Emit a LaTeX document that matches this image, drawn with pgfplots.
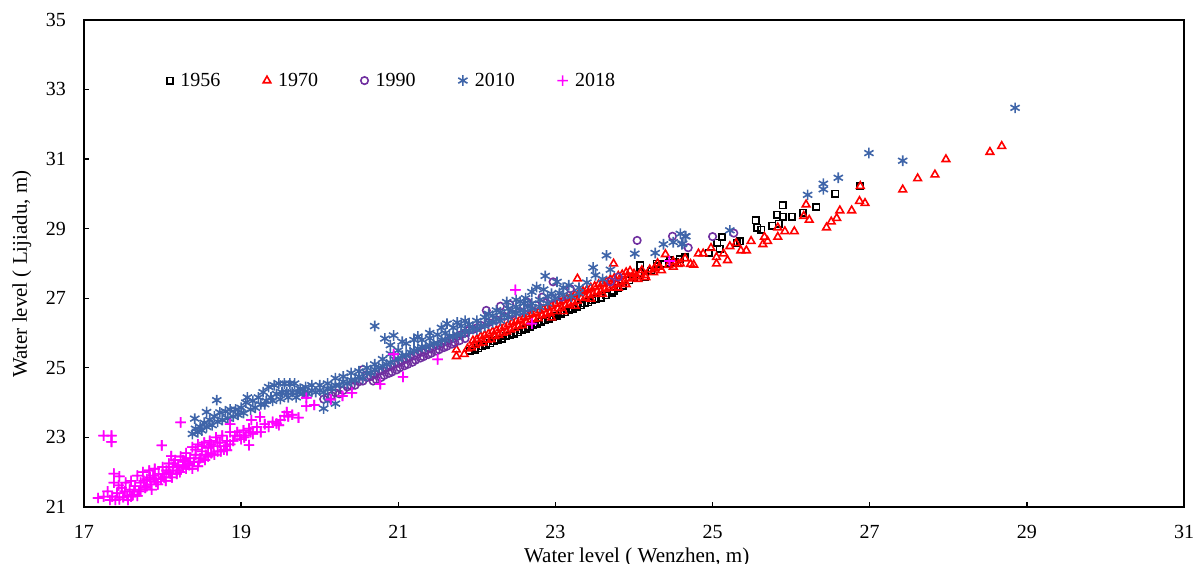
\documentclass[border=0pt]{standalone}
\usepackage{fontspec}
\setmainfont{Liberation Serif}
\usepackage{pgfplots}
\usepackage{pgfplotstable}
\pgfplotsset{compat=1.18}
\definecolor{cBlue}{HTML}{3F65A9}
\definecolor{cPur}{HTML}{7030A0}
\definecolor{cMag}{HTML}{FF00FF}
\pgfdeclareplotmark{magplus}{%
 \pgfsetfillcolor{cMag}%
 \pgfpathrectangle{\pgfqpoint{-\pgfplotmarksize}{-0.6pt}}{\pgfqpoint{2\pgfplotmarksize}{1.2pt}}%
 \pgfpathrectangle{\pgfqpoint{-0.6pt}{-\pgfplotmarksize}}{\pgfqpoint{1.2pt}{2\pgfplotmarksize}}%
 \pgfusepathqfill}
\pgfplotstableread{
17.18 21.26
17.25 21.30
17.25 23.05
17.35 23.05
17.35 22.87
17.30 21.45
17.33 21.20
17.38 21.96
17.38 21.70
17.40 21.20
17.42 21.40
17.45 21.88
17.45 21.22
17.48 21.55
17.50 21.28
17.53 21.70
17.55 21.32
17.58 21.50
17.60 21.75
17.62 21.35
17.65 21.60
17.68 21.90
17.70 21.45
17.72 21.70
17.75 22.00
17.78 21.55
17.80 21.80
17.83 22.05
17.85 21.65
17.88 21.90
17.90 22.10
17.92 21.72
17.95 21.95
17.99 22.77
18.00 22.15
18.02 21.85
18.05 22.05
18.08 22.25
18.11 22.46
18.10 21.95
18.13 22.15
18.16 22.35
18.18 22.05
18.20 22.20
18.23 23.43
18.23 22.45
18.26 22.15
18.28 22.30
18.30 22.55
18.33 22.25
18.35 22.40
18.38 22.72
18.40 22.30
18.42 22.50
18.45 22.17
18.45 22.80
18.48 22.40
18.50 22.60
18.53 22.85
18.55 22.50
18.58 22.70
18.60 22.90
18.62 22.55
18.65 22.75
18.68 23.00
18.70 22.60
18.73 22.85
18.76 23.05
18.78 22.65
18.82 22.63
18.82 22.90
18.86 23.38
18.86 23.15
18.90 22.90
18.95 23.15
19.00 22.95
19.03 23.20
19.06 23.05
19.10 22.78
19.10 23.25
19.13 23.50
19.15 23.10
19.20 23.30
19.24 23.59
19.25 23.15
19.30 23.38
19.35 23.30
19.40 23.45
19.45 23.40
19.48 23.35
19.50 23.50
19.55 23.62
19.58 23.73
19.60 23.60
19.65 23.65
19.73 23.57
19.83 24.14
19.83 23.90
19.93 23.93
20.14 24.09
20.29 24.19
20.41 24.28
20.77 24.53
20.94 25.39
21.06 24.74
21.50 25.24
22.49 27.24
22.70 26.27
24.45 28.07
17.36 21.30
17.44 21.62
17.52 21.45
17.56 21.20
17.60 21.30
17.64 21.45
17.68 21.32
17.72 21.50
17.76 21.75
17.80 21.60
17.84 21.85
17.86 21.50
17.90 21.80
17.94 21.65
17.98 21.80
18.00 21.95
18.04 21.75
18.08 22.00
18.12 21.85
18.14 22.25
18.18 21.95
18.22 22.00
18.26 22.35
18.30 22.10
18.34 22.20
18.38 22.10
18.42 22.65
18.46 22.30
18.50 22.75
18.54 22.35
18.58 22.45
18.62 22.80
18.66 22.50
18.70 22.85
18.74 22.60
18.80 22.75
18.86 22.80
18.92 23.05
18.98 23.05
19.04 23.00
19.12 23.15
}\magdata
\begin{document}
\begin{tikzpicture}
\useasboundingbox (0pt,0pt) rectangle (897pt,423pt);
\begin{axis}[
 at={(63pt,42.75pt)},anchor=south west,
 scale only axis,width=825pt,height=365.4pt,
 xmin=17,xmax=31,ymin=21,ymax=35,
 xtick={17,19,...,31},ytick={21,23,...,35},
 xtick pos=bottom,ytick pos=left,tick align=inside,
 major tick length=4pt,
 axis line style={line width=1.3pt,black},
 tick style={line width=1pt,black},
 font=\fontsize{15}{18}\selectfont,
 /pgf/number format/assume math mode=true,
 ticklabel style={font=\fontsize{15}{18}\selectfont},
 xticklabel style={yshift=-10pt},
 yticklabel style={xshift=-10pt},
 xlabel={Water level ( Wenzhen, m)},
 ylabel={Water level ( Lijiadu, m)},
 xlabel style={font=\fontsize{15.8}{18}\selectfont,at={(axis description cs:0.5,0)},anchor=north,yshift=-27.5pt,xshift=2pt},
 ylabel style={font=\fontsize{15.7}{18}\selectfont,at={(axis description cs:0,0.478)},anchor=south,yshift=36pt},
 legend columns=5,
 legend style={draw=none,fill=none,at={(axis cs:18.05,33.5)},anchor=north west,
   font=\fontsize{15}{18}\selectfont,inner sep=0pt,
   nodes={inner sep=0.5pt},
   /tikz/every even column/.append style={column sep=31.5pt},
   /tikz/every odd column/.append style={column sep=5pt}},
 legend cell align=left,
 every axis plot/.append style={only marks},
 clip=false,
]
% 1956
\addplot[black,mark=square,mark size=2.4pt,line width=1.2pt,mark options={solid}] table {
21.91 25.48
21.97 25.52
22.02 25.56
22.07 25.62
22.12 25.66
22.17 25.70
22.22 25.76
22.27 25.80
22.32 25.84
22.37 25.90
22.42 25.93
22.47 25.98
22.52 26.02
22.57 26.08
22.62 26.12
22.67 26.18
22.72 26.22
22.77 26.26
22.82 26.32
22.87 26.36
22.92 26.40
22.97 26.46
23.02 26.50
23.07 26.55
23.12 26.60
23.17 26.65
23.22 26.70
23.27 26.75
23.32 26.80
23.37 26.85
23.42 26.88
23.47 26.94
23.52 26.98
23.58 27.02
23.64 27.08
23.72 27.16
23.74 27.22
23.80 27.30
23.86 27.36
23.94 27.52
24.00 27.60
24.08 27.72
24.08 27.94
24.14 27.62
24.22 27.78
24.29 27.99
24.30 27.92
24.36 27.98
24.44 28.02
24.46 28.09
24.52 28.04
24.58 28.12
24.65 28.18
24.95 28.31
25.06 28.60
25.09 28.42
25.12 28.76
25.31 28.58
25.35 28.63
25.55 29.24
25.57 29.03
25.62 28.97
25.76 29.08
25.84 29.14
25.82 29.40
25.89 29.34
25.89 29.67
26.01 29.34
26.15 29.46
26.32 29.62
26.56 30.00
26.88 30.22
};
\addlegendentry{1956}
% 1970
\addplot[red,mark=triangle,mark size=3.3pt,line width=1.2pt,mark options={solid}] table {
21.74 25.33
21.84 25.39
21.74 25.52
21.88 25.55
21.93 25.58
21.98 25.65
22.03 25.70
22.08 25.72
22.13 25.80
22.18 25.82
22.23 25.90
22.28 25.94
22.33 26.00
22.38 26.04
22.43 26.10
22.48 26.14
22.53 26.20
22.58 26.22
22.63 26.30
22.68 26.34
22.73 26.40
22.78 26.42
22.83 26.50
22.88 26.54
22.93 26.58
22.98 26.62
23.03 26.70
23.08 26.72
23.13 26.80
23.18 26.84
23.23 26.88
23.28 26.92
23.33 27.00
23.38 27.02
23.43 27.08
23.48 27.12
23.53 27.18
23.58 27.20
23.63 27.26
23.68 27.30
23.73 27.36
23.78 27.40
23.83 27.45
23.88 27.48
23.93 27.56
23.98 27.60
24.03 27.62
24.08 27.72
24.14 27.66
24.20 27.82
24.26 27.86
24.32 27.90
24.40 28.26
24.44 27.95
24.50 27.90
24.56 27.98
24.59 27.99
24.65 28.14
24.76 27.96
24.72 27.98
21.95 25.78
22.00 25.82
22.05 25.90
22.10 25.94
22.15 25.98
22.20 26.04
22.25 26.08
22.30 26.14
22.35 26.18
22.40 26.24
22.45 26.30
22.50 26.34
22.55 26.38
22.60 26.44
22.65 26.48
22.70 26.54
22.75 26.58
22.80 26.64
22.85 26.68
22.90 26.74
22.95 26.44
22.95 26.78
23.00 26.84
23.05 26.90
23.10 26.62
23.10 26.94
23.15 27.00
23.20 27.04
23.25 26.78
23.25 27.10
23.28 27.56
23.30 27.14
23.35 27.20
23.40 27.24
23.45 26.98
23.45 27.30
23.50 27.34
23.55 27.40
23.60 27.12
23.60 27.44
23.65 27.48
23.70 27.54
23.74 27.99
23.75 27.58
23.80 27.30
23.80 27.64
23.85 27.68
23.90 27.40
23.90 27.74
23.95 27.78
24.00 27.70
24.05 27.55
24.10 27.80
24.15 27.60
24.25 27.74
24.30 28.00
24.35 27.80
24.50 28.05
24.82 28.28
24.88 28.28
24.98 28.44
25.05 27.99
25.05 28.18
25.14 28.28
25.19 28.09
25.22 28.49
25.30 28.58
25.36 28.37
25.43 28.37
25.49 28.64
25.64 28.55
25.66 28.76
25.70 28.64
25.83 28.76
25.83 29.03
25.92 28.92
26.04 28.92
26.16 29.36
26.19 29.69
26.23 29.25
26.45 29.03
26.51 29.20
26.58 29.30
26.62 29.52
26.77 29.52
26.87 29.79
26.88 30.22
26.94 29.73
27.42 30.12
27.61 30.44
27.83 30.55
27.97 30.99
28.53 31.20
28.68 31.37
};
\addlegendentry{1970}
% 1990
\addplot[cPur,mark=o,mark size=2.8pt,line width=1.2pt,mark options={solid}] table {
20.05 24.10
20.10 24.15
20.15 24.20
20.20 24.28
20.25 24.25
20.30 24.35
20.35 24.45
20.40 24.48
20.45 24.50
20.50 24.60
20.55 24.95
20.55 24.62
20.60 24.72
20.65 24.75
20.70 24.82
20.75 24.90
20.80 24.92
20.85 25.00
20.90 25.05
20.95 25.10
21.00 25.15
21.05 25.20
21.10 25.26
21.15 25.30
21.20 25.35
21.25 25.40
21.30 25.45
21.35 25.50
21.40 25.55
21.45 25.60
21.50 25.65
21.55 25.70
21.60 25.75
21.65 25.80
21.70 25.85
21.75 25.90
21.80 25.95
21.85 26.00
21.90 26.08
21.95 26.10
22.00 26.15
22.05 26.22
22.12 26.65
22.15 26.30
22.25 26.38
22.30 26.77
22.35 26.48
22.42 26.82
22.45 26.55
22.55 26.62
22.64 26.89
22.65 26.72
22.75 26.80
22.83 27.03
22.85 26.90
22.97 27.47
22.95 27.00
23.08 27.03
23.19 27.27
23.70 27.47
23.80 27.61
24.04 28.66
24.49 28.78
24.69 28.45
25.00 28.77
25.27 28.87
20.68 24.62
20.72 24.66
20.78 24.72
20.82 24.78
20.88 24.84
20.92 24.88
20.98 24.94
21.02 25.00
21.08 25.06
21.12 25.10
21.18 25.16
21.22 25.22
21.28 25.28
21.32 25.32
21.38 25.38
21.42 25.42
21.48 25.48
21.52 25.52
21.58 25.58
21.62 25.62
21.68 25.68
21.72 25.72
21.78 25.78
21.85 25.84
};
\addlegendentry{1990}
% 2010
\addplot[cBlue,mark=asterisk,mark size=4pt,line width=1.2pt,mark options={solid}] table {
18.38 23.10
18.41 23.54
18.42 23.25
18.45 23.15
18.48 23.30
18.50 23.20
18.53 23.42
18.56 23.73
18.56 23.30
18.60 23.50
18.63 23.35
18.66 23.60
18.69 24.07
18.70 23.45
18.73 23.72
18.76 23.50
18.80 23.75
18.83 23.55
18.86 23.80
18.90 23.60
18.93 23.80
18.96 23.65
19.00 23.85
19.03 23.70
19.06 24.00
19.08 24.15
19.12 23.80
19.15 24.05
19.18 23.85
19.22 24.15
19.25 23.95
19.28 24.30
19.32 24.05
19.35 24.45
19.38 24.15
19.42 24.50
19.45 24.25
19.48 24.55
19.52 24.30
19.55 24.55
19.58 24.30
19.62 24.55
19.65 24.30
19.68 24.55
19.72 24.30
19.75 24.40
19.78 24.25
19.82 24.45
19.85 24.25
19.90 24.50
19.95 24.30
20.00 24.50
20.05 23.83
20.05 24.30
20.10 24.55
20.10 24.05
20.15 24.40
20.20 23.97
20.20 24.70
20.25 24.50
20.30 24.75
20.35 24.55
20.40 24.85
20.45 24.65
20.50 24.90
20.55 24.70
20.60 25.00
20.65 24.85
20.70 25.10
20.70 26.20
20.75 25.00
20.80 25.25
20.83 25.84
20.85 25.10
20.90 25.40
20.94 25.93
20.95 25.25
21.00 25.50
21.05 25.35
21.10 25.70
21.15 25.45
21.20 25.80
21.25 25.55
21.30 25.80
21.35 25.60
21.40 25.85
21.45 25.70
21.50 25.95
21.55 25.80
21.62 26.27
21.60 26.00
21.65 25.90
21.70 26.15
21.75 25.95
21.80 26.20
21.85 26.35
21.85 26.05
21.90 26.25
21.95 26.15
22.00 26.35
22.05 26.20
22.10 26.45
22.15 26.30
22.20 26.50
22.25 26.40
22.30 26.60
22.38 26.89
22.35 26.50
22.40 26.70
22.45 26.60
22.50 26.75
22.55 26.65
22.60 26.85
22.65 26.75
22.70 27.18
22.70 26.85
22.76 27.32
22.80 26.95
22.87 27.64
22.90 27.05
22.95 27.13
23.02 27.47
23.05 27.15
23.17 27.37
23.30 27.30
23.48 27.88
23.51 27.66
23.65 28.23
23.70 27.82
24.01 28.28
24.27 28.30
24.375 28.55
24.50 28.61
24.59 28.85
24.61 28.55
24.62 28.57
24.65 28.78
24.66 28.78
25.22 28.95
26.21 29.97
26.41 30.13
26.41 30.29
26.60 30.46
26.99 31.17
27.42 30.95
28.85 32.47
19.30 23.95
19.40 24.05
19.50 24.10
19.60 24.15
19.70 24.15
19.80 24.30
19.90 24.35
20.00 24.35
20.10 24.40
20.20 24.50
20.30 24.60
20.40 24.65
20.50 24.75
20.60 24.85
20.70 24.95
20.80 25.05
20.90 25.15
21.00 25.25
21.10 25.35
21.20 25.50
21.30 25.60
21.40 25.65
21.50 25.70
21.60 25.80
21.70 25.90
21.80 25.95
21.90 26.05
22.00 26.10
22.10 26.20
22.20 26.30
22.30 26.35
22.40 26.45
22.50 26.55
22.60 26.60
22.70 26.70
22.80 26.75
22.90 26.85
23.00 27.00
23.10 27.10
23.20 27.05
23.30 27.15
23.40 27.45
23.60 27.55
20.90 25.65
21.05 25.75
21.25 25.90
21.40 26.00
21.55 26.15
21.75 26.30
22.15 26.55
22.25 26.65
22.50 26.95
22.55 26.90
22.62 27.00
22.85 27.25
23.10 27.30
};
\addlegendentry{2010}
% 2018
\addplot[cMag,mark=magplus,mark size=3.9pt,mark options={solid}] table {\magdata};
\addlegendentry{2018}
\addplot[cMag,mark=magplus,mark size=3.9pt,mark options={solid},forget plot] table {\magdata};
\draw[line width=2.1pt,black] (rel axis cs:0,0)--(rel axis cs:0,1);
\draw[line width=1.8pt,black] (rel axis cs:0,0)--(rel axis cs:1,0);
\end{axis}
\end{tikzpicture}
\end{document}
